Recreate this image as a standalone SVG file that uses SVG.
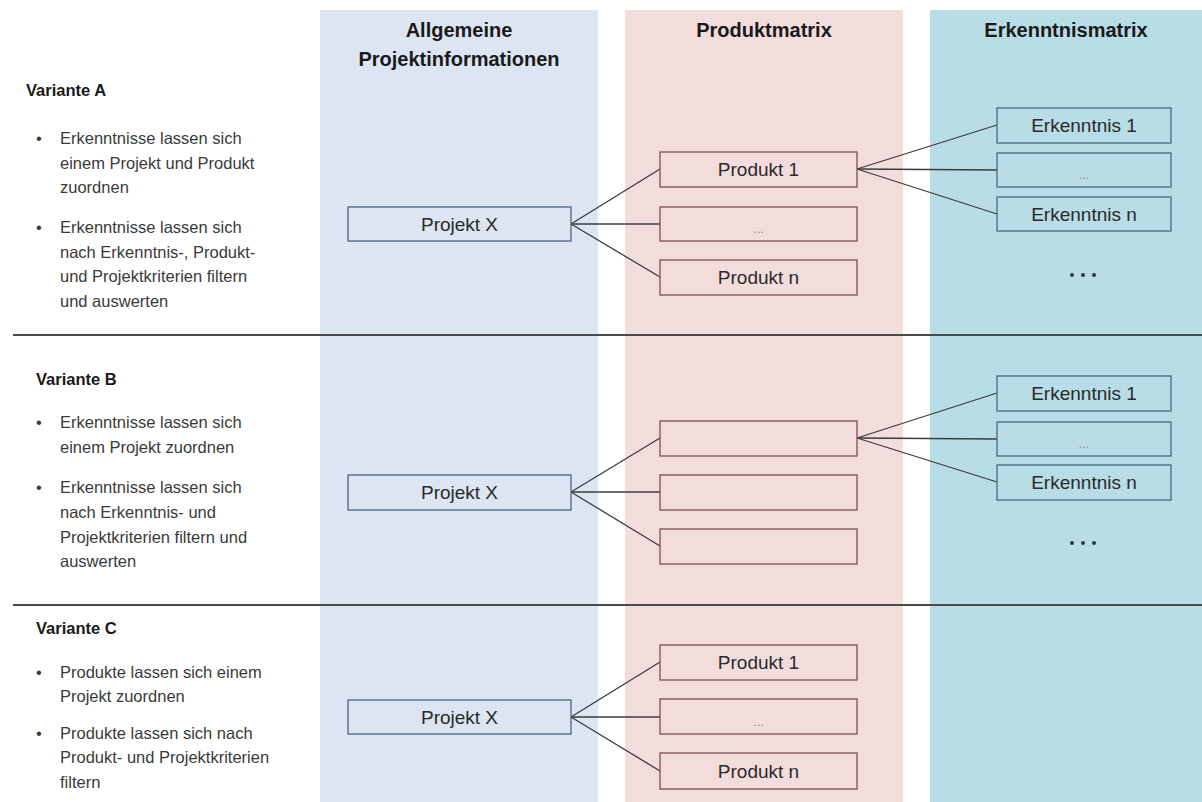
<svg xmlns="http://www.w3.org/2000/svg" width="1202" height="802" viewBox="0 0 1202 802">
<style>
.hdr{font-family:"Liberation Sans",Arial,sans-serif;font-weight:bold;font-size:20px;fill:#1a1a1a;text-anchor:middle}
.var{font-family:"Liberation Sans",Arial,sans-serif;font-weight:bold;font-size:16.5px;fill:#1a1a1a}
.bul{font-family:"Liberation Sans",Arial,sans-serif;font-size:16.5px;fill:#3a3a3a}
.lbl{font-family:"Liberation Sans",Arial,sans-serif;font-size:19px;fill:#2a2a2a;text-anchor:middle}
.ell{font-family:"Liberation Sans",Arial,sans-serif;font-size:13px;fill:#8a8a8a;text-anchor:middle}
.pj{fill:#dce5f1;stroke:#4d6580;stroke-width:1.3}
.pd{fill:#f2dcdc;stroke:#7a5050;stroke-width:1.3}
.ek{fill:#b8dde7;stroke:#3f6f7c;stroke-width:1.3}
.con line{stroke:#3c3c3c;stroke-width:1.3}
.sep{stroke:#4a4a4a;stroke-width:2}
</style>
<rect width="1202" height="802" fill="#ffffff"/>
<g id="columns">
<rect x="320" y="10" width="278" height="792" fill="#dce5f1"/>
<rect x="625" y="10" width="278" height="792" fill="#f2dcdc"/>
<rect x="930" y="10" width="272" height="792" fill="#b8dde7"/>
<text class="hdr" x="459" y="37">Allgemeine</text>
<text class="hdr" x="459" y="66">Projektinformationen</text>
<text class="hdr" x="764" y="37">Produktmatrix</text>
<text class="hdr" x="1066" y="37">Erkenntnismatrix</text>
</g>
<g id="separators">
<line class="sep" x1="13" y1="335" x2="1202" y2="335"/>
<line class="sep" x1="13" y1="605" x2="1202" y2="605"/>
</g>
<g id="textA">
<text class="var" x="26" y="96">Variante A</text>
<text class="bul" x="36" y="144">•</text>
<text class="bul" x="60" y="144">Erkenntnisse lassen sich</text>
<text class="bul" x="60" y="169">einem Projekt und Produkt</text>
<text class="bul" x="60" y="193">zuordnen</text>
<text class="bul" x="36" y="233">•</text>
<text class="bul" x="60" y="233">Erkenntnisse lassen sich</text>
<text class="bul" x="60" y="258">nach Erkenntnis-, Produkt-</text>
<text class="bul" x="60" y="282">und Projektkriterien filtern</text>
<text class="bul" x="60" y="307">und auswerten</text>
</g>
<g id="textB">
<text class="var" x="36" y="385">Variante B</text>
<text class="bul" x="36" y="428">•</text>
<text class="bul" x="60" y="428">Erkenntnisse lassen sich</text>
<text class="bul" x="60" y="453">einem Projekt zuordnen</text>
<text class="bul" x="36" y="493">•</text>
<text class="bul" x="60" y="493">Erkenntnisse lassen sich</text>
<text class="bul" x="60" y="518">nach Erkenntnis- und</text>
<text class="bul" x="60" y="543">Projektkriterien filtern und</text>
<text class="bul" x="60" y="567">auswerten</text>
</g>
<g id="textC">
<text class="var" x="36" y="634">Variante C</text>
<text class="bul" x="36" y="678">•</text>
<text class="bul" x="60" y="678">Produkte lassen sich einem</text>
<text class="bul" x="60" y="702">Projekt zuordnen</text>
<text class="bul" x="36" y="739">•</text>
<text class="bul" x="60" y="739">Produkte lassen sich nach</text>
<text class="bul" x="60" y="763">Produkt- und Projektkriterien</text>
<text class="bul" x="60" y="788">filtern</text>
</g>
<g id="connectors" class="con">
<line x1="571" y1="224" x2="660" y2="169"/>
<line x1="571" y1="224" x2="660" y2="224"/>
<line x1="571" y1="224" x2="660" y2="277"/>
<line x1="857" y1="169" x2="997" y2="125"/>
<line x1="857" y1="169" x2="997" y2="170"/>
<line x1="857" y1="169" x2="997" y2="214"/>
<line x1="571" y1="492" x2="660" y2="438"/>
<line x1="571" y1="492" x2="660" y2="492"/>
<line x1="571" y1="492" x2="660" y2="546"/>
<line x1="857" y1="438" x2="997" y2="393"/>
<line x1="857" y1="438" x2="997" y2="439"/>
<line x1="857" y1="438" x2="997" y2="482"/>
<line x1="571" y1="717" x2="660" y2="662"/>
<line x1="571" y1="717" x2="660" y2="717"/>
<line x1="571" y1="717" x2="660" y2="771"/>
</g>
<g id="A-projekt"><rect class="pj" x="348" y="207" width="223" height="34"/><text class="lbl" x="459.5" y="231">Projekt X</text></g>
<g id="A-produkt1"><rect class="pd" x="660" y="152" width="197" height="35"/><text class="lbl" x="758.5" y="176">Produkt 1</text></g>
<g id="A-produktdots"><rect class="pd" x="660" y="207" width="197" height="34"/><text class="ell" x="758.5" y="233">...</text></g>
<g id="A-produktn"><rect class="pd" x="660" y="260" width="197" height="35"/><text class="lbl" x="758.5" y="284">Produkt n</text></g>
<g id="A-erk1"><rect class="ek" x="997" y="108" width="174" height="35"/><text class="lbl" x="1084" y="132">Erkenntnis 1</text></g>
<g id="A-erkdots"><rect class="ek" x="997" y="153" width="174" height="34"/><text class="ell" x="1084" y="179">...</text></g>
<g id="A-erkn"><rect class="ek" x="997" y="197" width="174" height="34"/><text class="lbl" x="1084" y="221">Erkenntnis n</text></g>
<g id="A-more" fill="#1f3c4a"><circle cx="1072" cy="275" r="2"/><circle cx="1083" cy="275" r="2"/><circle cx="1094" cy="275" r="2"/></g>
<g id="B-projekt"><rect class="pj" x="348" y="475" width="223" height="35"/><text class="lbl" x="459.5" y="499">Projekt X</text></g>
<g id="B-produkt1"><rect class="pd" x="660" y="421" width="197" height="35"/></g>
<g id="B-produkt2"><rect class="pd" x="660" y="475" width="197" height="35"/></g>
<g id="B-produkt3"><rect class="pd" x="660" y="529" width="197" height="35"/></g>
<g id="B-erk1"><rect class="ek" x="997" y="376" width="174" height="35"/><text class="lbl" x="1084" y="400">Erkenntnis 1</text></g>
<g id="B-erkdots"><rect class="ek" x="997" y="422" width="174" height="34"/><text class="ell" x="1084" y="448">...</text></g>
<g id="B-erkn"><rect class="ek" x="997" y="465" width="174" height="35"/><text class="lbl" x="1084" y="489">Erkenntnis n</text></g>
<g id="B-more" fill="#1f3c4a"><circle cx="1072" cy="543" r="2"/><circle cx="1083" cy="543" r="2"/><circle cx="1094" cy="543" r="2"/></g>
<g id="C-projekt"><rect class="pj" x="348" y="700" width="223" height="34"/><text class="lbl" x="459.5" y="724">Projekt X</text></g>
<g id="C-produkt1"><rect class="pd" x="660" y="645" width="197" height="35"/><text class="lbl" x="758.5" y="669">Produkt 1</text></g>
<g id="C-produktdots"><rect class="pd" x="660" y="699" width="197" height="35"/><text class="ell" x="758.5" y="726">...</text></g>
<g id="C-produktn"><rect class="pd" x="660" y="753" width="197" height="36"/><text class="lbl" x="758.5" y="778">Produkt n</text></g>
</svg>
